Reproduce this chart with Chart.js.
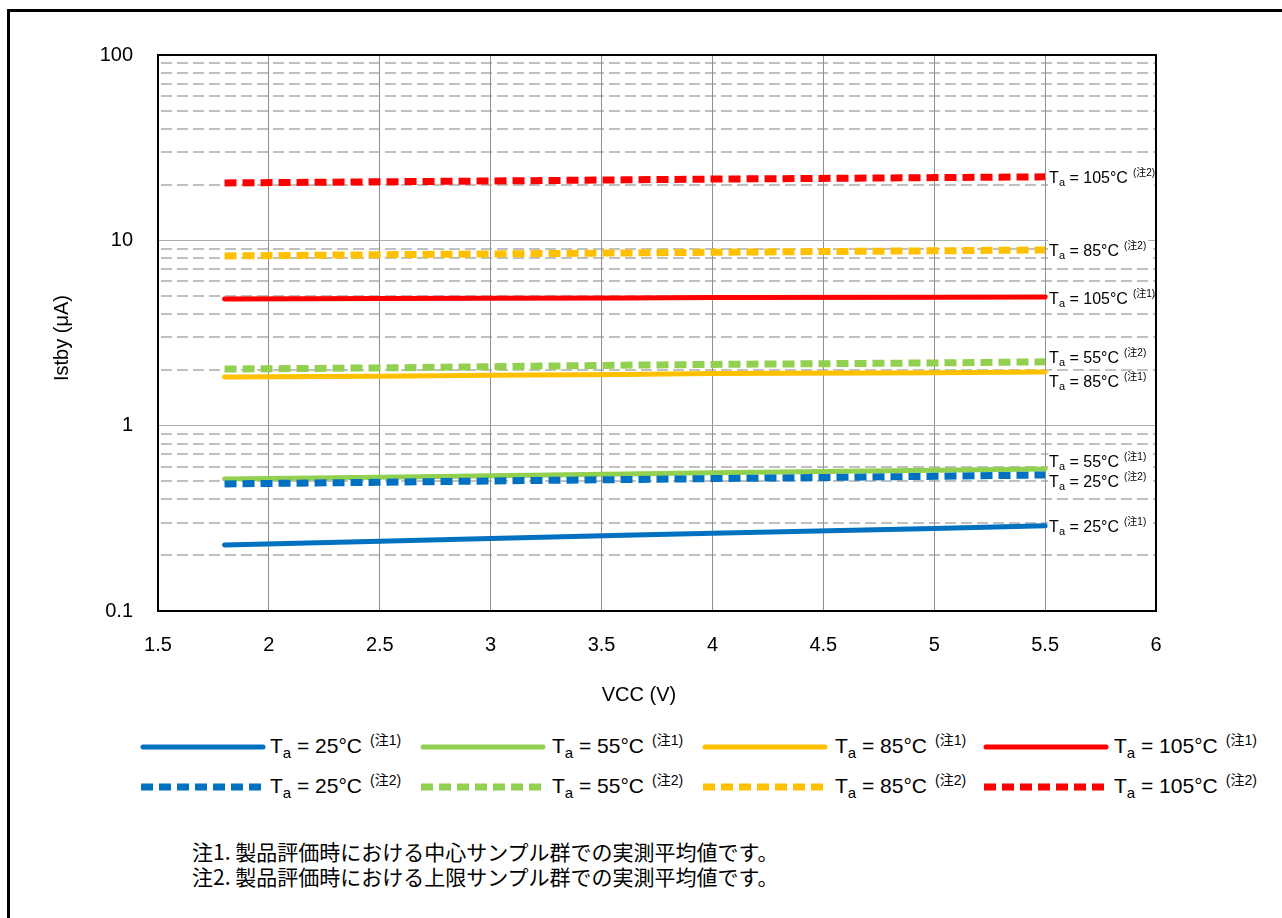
<!DOCTYPE html>
<html>
<head>
<meta charset="utf-8">
<script src="https://cdn.jsdelivr.net/npm/chart.js@4.4.1/dist/chart.umd.min.js"></script>
<style>
  html, body { margin: 0; padding: 0; background: #fff; }
  body { width: 1282px; height: 918px; position: relative; overflow: hidden;
         font-family: 'Liberation Sans', Arial, sans-serif; color: #000; }
  #frame { position: absolute; left: 7px; top: 9px; width: 1400px; height: 1000px;
           border-left: 3px solid #000; border-top: 3px solid #000; }
  #wrap { position: absolute; left: 0; top: 0; width: 1282px; height: 720px; }
  .sample { position: absolute; }
  .lab { position: absolute; font-size: 21px; line-height: 30px; height: 30px; white-space: nowrap; }
  .lab .sb { font-size: 15px; position: relative; top: 5px; }
  .lab .sp { font-size: 14px; position: relative; top: -8px; margin-left: 8px;
             font-family: 'Liberation Sans', 'Noto Sans CJK JP', sans-serif; }
  #notes { position: absolute; left: 192px; top: 839px; font-family: 'Noto Sans CJK JP', sans-serif;
           font-size: 21px; line-height: 25px; white-space: nowrap; }
</style>
</head>
<body>
<div id="frame"></div>
<div id="wrap"><canvas id="chart" width="1282" height="720"></canvas></div>
<div id="legend"></div>
<div id="notes">
  <div>注1. 製品評価時における中心サンプル群での実測平均値です。</div>
  <div>注2. 製品評価時における上限サンプル群での実測平均値です。</div>
</div>
<script>
// Supply voltage (V) at which standby current was measured
const vcc = [1.8, 2.5, 3.0, 3.6, 4.0, 5.0, 5.5];

// Standby current Istby (µA), typical samples (注1)
const ta25Typ  = [0.227, 0.238, 0.246, 0.256, 0.263, 0.279, 0.288];
const ta55Typ  = [0.515, 0.527, 0.536, 0.549, 0.557, 0.574, 0.584];
const ta85Typ  = [1.83, 1.85, 1.87, 1.89, 1.91, 1.93, 1.95];
const ta105Typ = [4.83, 4.85, 4.87, 4.89, 4.91, 4.93, 4.95];

// Standby current Istby (µA), upper-limit samples (注2)
const ta25Max  = [0.485, 0.495, 0.503, 0.512, 0.518, 0.533, 0.542];
const ta55Max  = [2.02, 2.05, 2.08, 2.12, 2.14, 2.18, 2.21];
const ta85Max  = [8.24, 8.36, 8.44, 8.55, 8.62, 8.78, 8.87];
const ta105Max = [20.4, 20.7, 20.9, 21.2, 21.4, 21.8, 22.0];

// Temperatures and note marks used in the labels
const temps = ['25', '55', '85', '105'];
const noteMarks = ['注1', '注2'];

// Axis ticks
const xTicks = [1.5, 2, 2.5, 3, 3.5, 4, 4.5, 5, 5.5, 6];
const yDecades = [0.1, 1, 10, 100];
const minorSteps = [2, 3, 4, 5, 6, 7, 8, 9];

const colors = ['#0070C0', '#92D050', '#FFC000', '#FF0000'];
// vertical nudge (px) of each end label so neighbouring labels don't collide
const typLabelShift = [0, -8, 9, 1];
const maxLabelShift = [6, -5, 0, 0];

const typSeries = [ta25Typ, ta55Typ, ta85Typ, ta105Typ];
const maxSeries = [ta25Max, ta55Max, ta85Max, ta105Max];

const FONT = "'Liberation Sans', Arial, sans-serif";
Chart.defaults.font.family = FONT;
Chart.defaults.color = '#000';

function makeSet(values, t, noteIdx, shift) {
  const dashed = noteIdx === 1;
  return {
    label: 'Ta = ' + temps[t] + '°C (' + noteMarks[noteIdx] + ')',
    temp: temps[t], note: noteMarks[noteIdx], shift: shift,
    data: vcc.map((v, i) => ({ x: v, y: values[i] })),
    borderColor: colors[t],
    backgroundColor: colors[t],
    borderWidth: dashed ? 7 : 5,
    borderDash: dashed ? [12, 6] : [],
    borderCapStyle: dashed ? 'butt' : 'round',
    pointRadius: 0, pointHoverRadius: 0, tension: 0, fill: false
  };
}

// draw order: upper-limit (dashed) below, typical (solid) on top
const datasets = [];
maxSeries.forEach((s, t) => datasets.push(makeSet(s, t, 1, maxLabelShift[t])));
typSeries.forEach((s, t) => datasets.push(makeSet(s, t, 0, typLabelShift[t])));

// dashed minor grid lines between decades
const minorGrid = {
  id: 'minorGrid',
  beforeDraw(chart) {
    const { ctx, chartArea: a, scales: { y } } = chart;
    ctx.save();
    ctx.strokeStyle = '#c0c0c0';
    ctx.lineWidth = 2;
    ctx.setLineDash([11, 5]);
    yDecades.slice(0, -1).forEach(d => minorSteps.forEach(m => {
      const py = Math.round(y.getPixelForValue(d * m));
      ctx.beginPath();
      ctx.moveTo(a.left + 3, py);
      ctx.lineTo(a.right, py);
      ctx.stroke();
    }));
    ctx.restore();
  }
};

// plot frame and the labels at each line's right end
const frameAndLabels = {
  id: 'frameAndLabels',
  afterDatasetsDraw(chart) {
    const { ctx, chartArea: a } = chart;
    ctx.save();
    ctx.strokeStyle = '#000';
    ctx.lineWidth = 2;
    ctx.strokeRect(a.left, a.top, a.right - a.left, a.bottom - a.top);

    chart.data.datasets.forEach((ds, i) => {
      const pts = chart.getDatasetMeta(i).data;
      const end = pts[pts.length - 1];
      const x0 = end.x + 4;
      const yc = end.y + ds.shift;
      const base = yc + 6;
      const fMain = '16px ' + FONT, fSub = '11px ' + FONT,
            fSup = "10px 'Liberation Sans', 'Noto Sans CJK JP', sans-serif";
      ctx.font = fMain; const wT = ctx.measureText('T').width;
      ctx.font = fSub;  const wA = ctx.measureText('a').width;
      const rest = ' = ' + ds.temp + '°C';
      ctx.font = fMain; const wR = ctx.measureText(rest).width;
      const sup = '(' + ds.note + ')';
      ctx.font = fSup;  const wS = ctx.measureText(sup).width;
      const total = wT + wA + wR + 5 + wS;

      ctx.fillStyle = '#fff';
      ctx.fillRect(x0 - 1, yc - 10, Math.min(total + 3, a.right - x0 - 1), 20);
      ctx.fillStyle = '#000';
      ctx.textBaseline = 'alphabetic';
      ctx.textAlign = 'left';
      let x = x0;
      ctx.font = fMain; ctx.fillText('T', x, base); x += wT;
      ctx.font = fSub;  ctx.fillText('a', x, base + 3); x += wA;
      ctx.font = fMain; ctx.fillText(rest, x, base); x += wR + 5;
      ctx.font = fSup;  ctx.fillText(sup, x, yc - 1);
    });
    ctx.restore();
  },
  afterDraw(chart) {
    const { ctx } = chart;
    ctx.save();
    ctx.fillStyle = '#000';
    ctx.font = '20px ' + FONT;
    ctx.textAlign = 'center';
    ctx.textBaseline = 'middle';
    ctx.fillText('VCC (V)', 639, 695);
    ctx.translate(62, 338);
    ctx.rotate(-Math.PI / 2);
    ctx.fillText('Istby (μA)', 0, 0);
    ctx.restore();
  }
};

new Chart(document.getElementById('chart'), {
  type: 'line',
  data: { datasets },
  plugins: [minorGrid, frameAndLabels],
  options: {
    responsive: false,
    animation: false,
    events: [],
    layout: { padding: { top: 55, right: 126, bottom: 0, left: 0 } },
    plugins: { legend: { display: false }, tooltip: { enabled: false } },
    scales: {
      x: {
        type: 'linear', min: 1.5, max: 6,
        afterFit: s => { s.height = 109; },
        afterBuildTicks: s => { s.ticks = xTicks.map(v => ({ value: v })); },
        ticks: { font: { size: 20 }, padding: 22, autoSkip: false, maxRotation: 0,
                 callback: v => String(v) },
        grid: { color: '#8f8f8f', lineWidth: 1, drawTicks: false },
        border: { display: false }
      },
      y: {
        type: 'logarithmic', min: 0.1, max: 100,
        afterFit: s => { s.width = 158; },
        afterBuildTicks: s => { s.ticks = yDecades.map(v => ({ value: v })); },
        ticks: { font: { size: 20 }, padding: 25, autoSkip: false,
                 callback: v => String(v) },
        grid: { color: '#ababab', lineWidth: 1, drawTicks: false },
        border: { display: false }
      }
    }
  }
});

// legend: typical samples on the first row, upper-limit samples on the second
const legend = document.getElementById('legend');
const sampleX = [140, 420, 702, 983];
const textX = [270, 552, 835, 1114];
const rowY = [747, 787];
[typSeries, maxSeries].forEach((_, row) => {
  temps.forEach((t, k) => {
    const dashed = row === 1;
    const svg = document.createElementNS('http://www.w3.org/2000/svg', 'svg');
    svg.setAttribute('class', 'sample');
    svg.setAttribute('width', '126');
    svg.setAttribute('height', '12');
    svg.style.left = sampleX[k] + 'px';
    svg.style.top = (rowY[row] - 6) + 'px';
    const ln = document.createElementNS('http://www.w3.org/2000/svg', 'line');
    ln.setAttribute('x1', dashed ? 1 : 3);
    ln.setAttribute('x2', 123);
    ln.setAttribute('y1', 6); ln.setAttribute('y2', 6);
    ln.setAttribute('stroke', colors[k]);
    ln.setAttribute('stroke-width', dashed ? 7 : 5);
    ln.setAttribute('stroke-linecap', dashed ? 'butt' : 'round');
    if (dashed) ln.setAttribute('stroke-dasharray', '12 6');
    svg.appendChild(ln);
    legend.appendChild(svg);

    const lab = document.createElement('div');
    lab.className = 'lab';
    lab.style.left = textX[k] + 'px';
    lab.style.top = (rowY[row] - 16) + 'px';
    lab.innerHTML = 'T<span class="sb">a</span> = ' + t + '°C<span class="sp">(' + noteMarks[row] + ')</span>';
    legend.appendChild(lab);
  });
});
</script>
</body>
</html>
